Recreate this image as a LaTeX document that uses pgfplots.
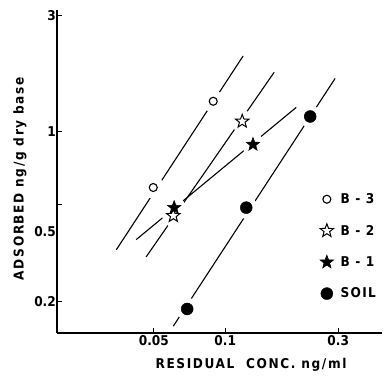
\documentclass[border=0pt]{standalone}
\usepackage{fontspec}
\setmainfont{DejaVu Sans Condensed}
\usepackage{pgfplots}
\pgfplotsset{compat=1.18}

% five-pointed star mark (outer radius = mark size)
\pgfdeclareplotmark{pentastar}{%
  \pgfpathmoveto{\pgfpointpolar{90}{\pgfplotmarksize}}%
  \pgfpathlineto{\pgfpointpolar{126}{0.42*\pgfplotmarksize}}%
  \pgfpathlineto{\pgfpointpolar{162}{\pgfplotmarksize}}%
  \pgfpathlineto{\pgfpointpolar{198}{0.42*\pgfplotmarksize}}%
  \pgfpathlineto{\pgfpointpolar{234}{\pgfplotmarksize}}%
  \pgfpathlineto{\pgfpointpolar{270}{0.42*\pgfplotmarksize}}%
  \pgfpathlineto{\pgfpointpolar{306}{\pgfplotmarksize}}%
  \pgfpathlineto{\pgfpointpolar{342}{0.42*\pgfplotmarksize}}%
  \pgfpathlineto{\pgfpointpolar{18}{\pgfplotmarksize}}%
  \pgfpathlineto{\pgfpointpolar{54}{0.42*\pgfplotmarksize}}%
  \pgfpathclose
  \pgfusepathqfillstroke
}

\newcommand\lblfont{\fontsize{13.5}{14}\selectfont\bfseries\addfontfeature{LetterSpace=12}}

\begin{document}
\begin{tikzpicture}
\path[use as bounding box] (-57pt,-43pt) rectangle (331pt,333pt);
\begin{axis}[
  scale only axis, width=325pt, height=323pt,
  xmode=log, ymode=log,
  xmin=0.0195, xmax=0.459, ymin=0.149, ymax=3.15,
  axis x line=bottom, axis y line=left,
  axis line style={-, line width=1.2pt},
  xtick={0.05,0.1,0.3}, xticklabels={0.05,0.1,0.3},
  ytick={0.2,0.5,1,3}, yticklabels={0.2,,1,3},
  extra y ticks={0.388}, extra y tick labels={0.5},
  extra y tick style={major tick length=0pt},
  xminorticks=false, yminorticks=false,
  tick align=inside, major tick length=5pt,
  tick style={line width=1pt, black},
  tick label style={font=\fontsize{13.5}{14}\selectfont\bfseries},
  yticklabel style={inner sep=1pt},
  xticklabel style={inner sep=2pt},
  xlabel={RESIDUAL\ \ CONC. ng/ml},
  ylabel={ADSORBED ng/g dry base},
  label style={font=\lblfont},
  x label style={at={(axis description cs:0.597,-0.066)}, anchor=north},
  y label style={at={(axis description cs:-0.114,0.478)}, anchor=center},
  legend style={draw=none, fill=none, at={(axis description cs:0.80,0.445)},
    anchor=north west, row sep=16pt,
    font=\fontsize{13.5}{14}\selectfont\bfseries\addfontfeature{LetterSpace=10},
    nodes={inner xsep=7pt}},
  legend cell align=left,
]
% fitted lines
\addplot[black, line width=1.1pt, forget plot] coordinates {(0.0347,0.327) (0.119,2.04)};
\addplot[black, line width=1.1pt, forget plot] coordinates {(0.0464,0.306) (0.161,1.75)};
\addplot[black, line width=1.1pt, forget plot] coordinates {(0.0421,0.360) (0.1994,1.255)};
\addplot[black, line width=1.1pt, forget plot] coordinates {(0.0604,0.159) (0.291,1.65)};
% white clearing around the data points
\addplot[only marks, mark=*, mark size=11pt, mark options={draw=white, fill=white}, forget plot] coordinates {
  (0.0497,0.589) (0.0890,1.33)
  (0.0604,0.451) (0.118,1.10)
  (0.0609,0.487) (0.131,0.884)
  (0.0691,0.187) (0.1227,0.487) (0.2284,1.152)};
% data points
\addplot[only marks, mark=o, mark size=4pt, mark options={line width=1.1pt, draw=black}] coordinates {(0.0497,0.589) (0.0890,1.33)};
\addplot[only marks, mark=pentastar, mark size=7pt, mark options={line width=1pt, draw=black, fill=white}] coordinates {(0.0604,0.451) (0.118,1.10)};
\addplot[only marks, mark=pentastar, mark size=7pt, mark options={line width=0.6pt, draw=black, fill=black}] coordinates {(0.0609,0.487) (0.131,0.884)};
\addplot[only marks, mark=*, mark size=6pt, mark options={draw=black, fill=black}] coordinates {(0.0691,0.187) (0.1227,0.487) (0.2284,1.152)};
\legend{B - 3, B - 2, B - 1, SOIL}
\end{axis}
\end{tikzpicture}
\end{document}
